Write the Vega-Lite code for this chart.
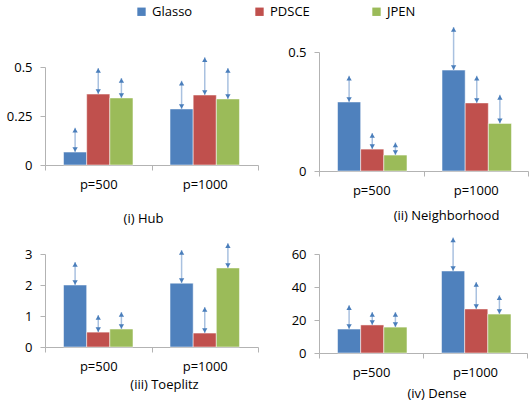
{
  "$schema": "https://vega.github.io/schema/vega-lite/v6.json",
  "padding": {"left": 6, "top": 5, "right": 0, "bottom": 5},
  "background": "white",
  "datasets": {
    "d": [
      {"panel": "Hub", "p": "p=500", "method": "Glasso", "value": 0.066, "upper": 0.19},
      {"panel": "Hub", "p": "p=500", "method": "PDSCE", "value": 0.362, "upper": 0.495},
      {"panel": "Hub", "p": "p=500", "method": "JPEN", "value": 0.342, "upper": 0.444},
      {"panel": "Hub", "p": "p=1000", "method": "Glasso", "value": 0.286, "upper": 0.43},
      {"panel": "Hub", "p": "p=1000", "method": "PDSCE", "value": 0.357, "upper": 0.55},
      {"panel": "Hub", "p": "p=1000", "method": "JPEN", "value": 0.337, "upper": 0.495},
      {"panel": "Neighborhood", "p": "p=500", "method": "Glasso", "value": 0.29, "upper": 0.40},
      {"panel": "Neighborhood", "p": "p=500", "method": "PDSCE", "value": 0.092, "upper": 0.16},
      {"panel": "Neighborhood", "p": "p=500", "method": "JPEN", "value": 0.067, "upper": 0.12},
      {"panel": "Neighborhood", "p": "p=1000", "method": "Glasso", "value": 0.424, "upper": 0.605},
      {"panel": "Neighborhood", "p": "p=1000", "method": "PDSCE", "value": 0.286, "upper": 0.40},
      {"panel": "Neighborhood", "p": "p=1000", "method": "JPEN", "value": 0.20, "upper": 0.32},
      {"panel": "Toeplitz", "p": "p=500", "method": "Glasso", "value": 2.0, "upper": 2.74},
      {"panel": "Toeplitz", "p": "p=500", "method": "PDSCE", "value": 0.48, "upper": 1.03},
      {"panel": "Toeplitz", "p": "p=500", "method": "JPEN", "value": 0.58, "upper": 1.13},
      {"panel": "Toeplitz", "p": "p=1000", "method": "Glasso", "value": 2.06, "upper": 3.13},
      {"panel": "Toeplitz", "p": "p=1000", "method": "PDSCE", "value": 0.45, "upper": 1.29},
      {"panel": "Toeplitz", "p": "p=1000", "method": "JPEN", "value": 2.55, "upper": 3.35},
      {"panel": "Dense", "p": "p=500", "method": "Glasso", "value": 14.5, "upper": 29},
      {"panel": "Dense", "p": "p=500", "method": "PDSCE", "value": 17, "upper": 24.8},
      {"panel": "Dense", "p": "p=500", "method": "JPEN", "value": 15.7, "upper": 24.8},
      {"panel": "Dense", "p": "p=1000", "method": "Glasso", "value": 49.7, "upper": 70},
      {"panel": "Dense", "p": "p=1000", "method": "PDSCE", "value": 26.7, "upper": 43},
      {"panel": "Dense", "p": "p=1000", "method": "JPEN", "value": 23.6, "upper": 35}
    ]
  },
  "data": {"name": "d"},
  "bounds": "flush",
  "columns": 2,
  "spacing": {"row": 66, "column": 61},
  "concat": [
    {
      "width": 213, "height": 138,
      "title": {"text": "(i) Hub", "orient": "bottom", "offset": 22, "dx": -8},
      "transform": [{"filter": "datum.panel === 'Hub'"}],
      "encoding": {
        "x": {"field": "p", "type": "nominal", "sort": ["p=500", "p=1000"], "scale": {"paddingInner": 0, "paddingOuter": 0}, "axis": {"title": null, "labelAngle": 0, "tickBand": "extent"}},
        "xOffset": {"field": "method", "type": "nominal", "sort": ["Glasso", "PDSCE", "JPEN"], "scale": {"paddingInner": 0, "paddingOuter": 0.8}},
        "y": {"field": "value", "type": "quantitative", "scale": {"domain": [0, 0.5], "range": [138, 40], "nice": false}, "axis": {"title": null, "values": [0, 0.25, 0.5], "format": ".2~f"}}
      },
      "layer": [
        {"mark": {"type": "bar", "stroke": "white", "strokeOpacity": 0.5, "strokeWidth": 1},
         "encoding": {
           "color": {"field": "method", "type": "nominal", "sort": ["Glasso", "PDSCE", "JPEN"], "scale": {"domain": ["Glasso", "PDSCE", "JPEN"], "range": ["#4F81BD", "#C0504D", "#9BBB59"]},
             "legend": {"title": null, "orient": "none", "direction": "horizontal", "legendX": 90, "legendY": -22, "symbolType": "square", "symbolSize": 70, "columnPadding": 60, "labelFontSize": 13, "labelFont": "Open Sans", "symbolStrokeWidth": 0, "labelExpr": "datum.label == 'PDSCE' ? 'PDSCE\u00a0\u00a0\u00a0' : datum.label"}}
         }},
        {"mark": {"type": "rule", "color": "#a9c1e0", "strokeWidth": 1.5},
         "encoding": {"y2": {"field": "upper"}}},
        {"mark": {"type": "point", "shape": "triangle-up", "filled": true, "size": 28, "color": "#4a7ebb", "opacity": 1, "yOffset": 2.5},
         "encoding": {"y": {"field": "upper", "type": "quantitative", "axis": {"title": null, "values": [0, 0.25, 0.5], "format": ".2~f"}}}},
        {"mark": {"type": "point", "shape": "triangle-down", "filled": true, "size": 28, "color": "#4a7ebb", "opacity": 1, "yOffset": -2.5},
         "encoding": {}}
      ]
    },
    {
      "width": 209, "height": 144,
      "title": {"text": "(ii) Neighborhood", "orient": "bottom", "offset": 13, "dx": 23},
      "transform": [{"filter": "datum.panel === 'Neighborhood'"}],
      "encoding": {
        "x": {"field": "p", "type": "nominal", "sort": ["p=500", "p=1000"], "scale": {"paddingInner": 0, "paddingOuter": 0}, "axis": {"title": null, "labelAngle": 0, "tickBand": "extent"}},
        "xOffset": {"field": "method", "type": "nominal", "sort": ["Glasso", "PDSCE", "JPEN"], "scale": {"paddingInner": 0, "paddingOuter": 0.8}},
        "y": {"field": "value", "type": "quantitative", "scale": {"domain": [0, 0.5], "range": [144, 25], "nice": false}, "axis": {"title": null, "values": [0, 0.5], "format": ".2~f"}}
      },
      "layer": [
        {"mark": {"type": "bar", "stroke": "white", "strokeOpacity": 0.5, "strokeWidth": 1},
         "encoding": {
           "color": {"field": "method", "type": "nominal", "sort": ["Glasso", "PDSCE", "JPEN"], "legend": null}
         }},
        {"mark": {"type": "rule", "color": "#a9c1e0", "strokeWidth": 1.5},
         "encoding": {"y2": {"field": "upper"}}},
        {"mark": {"type": "point", "shape": "triangle-up", "filled": true, "size": 28, "color": "#4a7ebb", "opacity": 1, "yOffset": 2.5},
         "encoding": {"y": {"field": "upper", "type": "quantitative", "axis": {"title": null, "values": [0, 0.5], "format": ".2~f"}}}},
        {"mark": {"type": "point", "shape": "triangle-down", "filled": true, "size": 28, "color": "#4a7ebb", "opacity": 1, "yOffset": -2.5},
         "encoding": {}}
      ]
    },
    {
      "width": 213, "height": 110,
      "title": {"text": "(iii) Toeplitz", "orient": "bottom", "offset": 6, "dx": 13},
      "transform": [{"filter": "datum.panel === 'Toeplitz'"}],
      "encoding": {
        "x": {"field": "p", "type": "nominal", "sort": ["p=500", "p=1000"], "scale": {"paddingInner": 0, "paddingOuter": 0}, "axis": {"title": null, "labelAngle": 0, "tickBand": "extent"}},
        "xOffset": {"field": "method", "type": "nominal", "sort": ["Glasso", "PDSCE", "JPEN"], "scale": {"paddingInner": 0, "paddingOuter": 0.8}},
        "y": {"field": "value", "type": "quantitative", "scale": {"domain": [0, 3], "range": [110, 17], "nice": false}, "axis": {"title": null, "values": [0, 1, 2, 3], "format": ".2~f"}}
      },
      "layer": [
        {"mark": {"type": "bar", "stroke": "white", "strokeOpacity": 0.5, "strokeWidth": 1},
         "encoding": {
           "color": {"field": "method", "type": "nominal", "sort": ["Glasso", "PDSCE", "JPEN"], "legend": null}
         }},
        {"mark": {"type": "rule", "color": "#a9c1e0", "strokeWidth": 1.5},
         "encoding": {"y2": {"field": "upper"}}},
        {"mark": {"type": "point", "shape": "triangle-up", "filled": true, "size": 28, "color": "#4a7ebb", "opacity": 1, "yOffset": 2.5},
         "encoding": {"y": {"field": "upper", "type": "quantitative", "axis": {"title": null, "values": [0, 1, 2, 3], "format": ".2~f"}}}},
        {"mark": {"type": "point", "shape": "triangle-down", "filled": true, "size": 28, "color": "#4a7ebb", "opacity": 1, "yOffset": -2.5},
         "encoding": {}}
      ]
    },
    {
      "width": 208, "height": 116,
      "title": {"text": "(iv) Dense", "orient": "bottom", "offset": 9, "dx": 14},
      "transform": [{"filter": "datum.panel === 'Dense'"}],
      "encoding": {
        "x": {"field": "p", "type": "nominal", "sort": ["p=500", "p=1000"], "scale": {"paddingInner": 0, "paddingOuter": 0}, "axis": {"title": null, "labelAngle": 0, "tickBand": "extent"}},
        "xOffset": {"field": "method", "type": "nominal", "sort": ["Glasso", "PDSCE", "JPEN"], "scale": {"paddingInner": 0, "paddingOuter": 0.8}},
        "y": {"field": "value", "type": "quantitative", "scale": {"domain": [0, 60], "range": [116, 17], "nice": false}, "axis": {"title": null, "values": [0, 20, 40, 60], "format": ".2~f"}}
      },
      "layer": [
        {"mark": {"type": "bar", "stroke": "white", "strokeOpacity": 0.5, "strokeWidth": 1},
         "encoding": {
           "color": {"field": "method", "type": "nominal", "sort": ["Glasso", "PDSCE", "JPEN"], "legend": null}
         }},
        {"mark": {"type": "rule", "color": "#a9c1e0", "strokeWidth": 1.5},
         "encoding": {"y2": {"field": "upper"}}},
        {"mark": {"type": "point", "shape": "triangle-up", "filled": true, "size": 28, "color": "#4a7ebb", "opacity": 1, "yOffset": 2.5},
         "encoding": {"y": {"field": "upper", "type": "quantitative", "axis": {"title": null, "values": [0, 20, 40, 60], "format": ".2~f"}}}},
        {"mark": {"type": "point", "shape": "triangle-down", "filled": true, "size": 28, "color": "#4a7ebb", "opacity": 1, "yOffset": -2.5},
         "encoding": {}}
      ]
    }
  ],
  "resolve": {"scale": {"color": "shared"}},
  "config": {
    "view": {"stroke": null},
    "font": "Open Sans",
    "axis": {"grid": false, "domainColor": "#b3b3b3", "tickColor": "#b3b3b3", "tickSize": 5, "labelFont": "Open Sans", "labelFontSize": 13, "labelColor": "#000000", "domainWidth": 1},
    "axisY": {"labelPadding": 8},
    "axisX": {"labelPadding": 8},
    "title": {"font": "Open Sans", "fontSize": 13, "fontWeight": "normal", "color": "#000000", "anchor": "middle"}
  }
}
